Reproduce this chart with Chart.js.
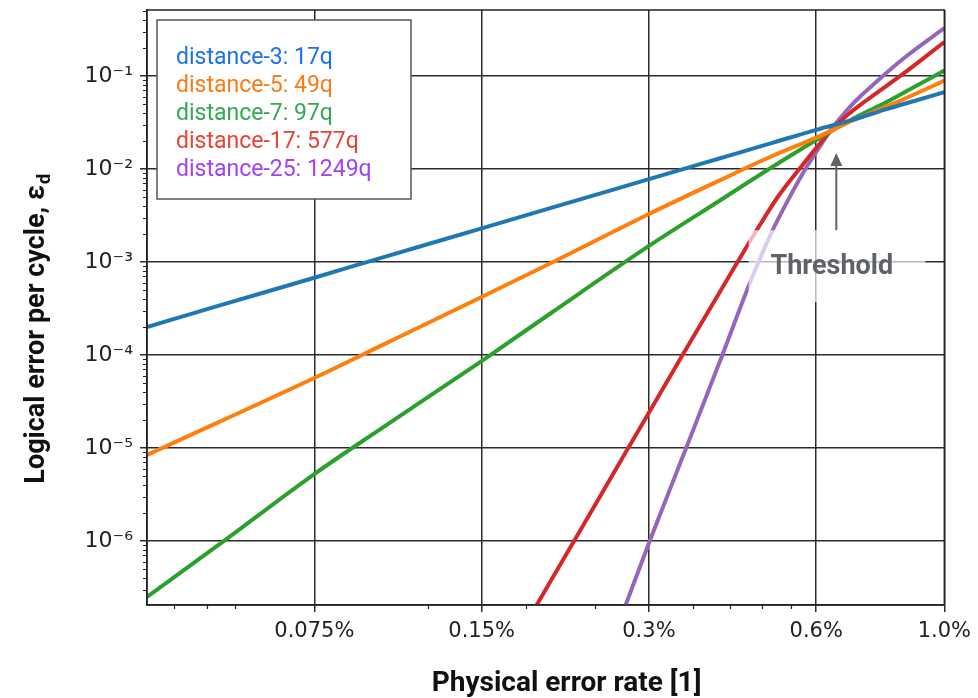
<!DOCTYPE html>
<html>
<head>
<meta charset="utf-8">
<script src="https://cdn.jsdelivr.net/npm/chart.js@4.4.1/dist/chart.umd.min.js"></script>
<style>
  html, body { margin: 0; padding: 0; background: #fff; }
  #wrap { width: 978px; height: 698px; }
</style>
</head>
<body>
<div id="wrap"><canvas id="chart" width="978" height="698"></canvas></div>
<script>
// ── Data (physical error rate in %, logical error per cycle) ────────────────
const rates = [0.0375, 0.05, 0.075, 0.1, 0.15, 0.2, 0.3, 0.4, 0.5, 0.6, 0.7, 0.8, 0.9, 1.02];
const d3 = [2.0e-4, 3.33e-4, 6.78e-4, 1.13e-3, 2.30e-3, 3.82e-3, 7.78e-3, 0.0129, 0.0191, 0.0264, 0.0340, 0.0438, 0.0539, 0.0671];
const d5 = [8.41e-6, 1.85e-5, 5.66e-5, 1.30e-4, 4.21e-4, 9.75e-4, 3.28e-3, 7.43e-3, 0.0138, 0.0218, 0.0335, 0.0465, 0.0633, 0.0895];
const d7 = [2.5e-7, 8.73e-7, 5.25e-6, 1.69e-5, 8.61e-5, 2.83e-4, 1.49e-3, 4.48e-3, 0.0105, 0.0205, 0.0350, 0.0519, 0.0762, 0.1146];

const d17Rates = [0.188, 0.22, 0.274, 0.344, 0.432, 0.469, 0.513, 0.565, 0.606, 0.639, 0.686, 0.736, 0.868, 1.02];
const d17 = [2.0e-7, 1e-6, 9.5e-6, 9.75e-5, 9.75e-4, 2.21e-3, 5.13e-3, 0.0108, 0.0181, 0.0262, 0.0390, 0.0539, 0.110, 0.232];

const d25Rates = [0.272, 0.30, 0.35, 0.406, 0.458, 0.499, 0.535, 0.5765, 0.6135, 0.639, 0.677, 0.706, 0.776, 0.868, 1.02];
const d25 = [2.0e-7, 9.5e-7, 1e-5, 9.75e-5, 6.4e-4, 2.10e-3, 4.75e-3, 0.0105, 0.0186, 0.0269, 0.0410, 0.0539, 0.0906, 0.160, 0.328];

const seriesLabels = ["distance-3: 17q", "distance-5: 49q", "distance-7: 97q", "distance-17: 577q", "distance-25: 1249q"];
const lineColors   = ["#1f77b4", "#ff7f0e", "#2ca02c", "#d62728", "#9467bd"];
const legendColors = ["#1a73e8", "#fa7b17", "#34a853", "#ea4335", "#a142f4"];

const xTickVals   = [0.075, 0.15, 0.3, 0.6, 1.02];
const xTickLabels = ["0.075%", "0.15%", "0.3%", "0.6%", "1.0%"];
const xMinorVals  = [0.042, 0.048, 0.054, 0.12, 0.18, 0.24, 0.36, 0.42, 0.48, 0.54];
const yTickVals   = [1e-6, 1e-5, 1e-4, 1e-3, 1e-2, 1e-1];
const yTickLabels = ["10⁻⁶", "10⁻⁵", "10⁻⁴", "10⁻³", "10⁻²", "10⁻¹"];

const X_MIN = 0.0375, X_MAX = 1.02;
const Y_MIN = 2.05e-7, Y_MAX = 0.513;

// threshold annotation, in data coordinates
const threshold = { x: 0.652, arrowFrom: 2.2e-3, arrowTo: 0.0149, textX: 0.64, textY: 8.8e-4,
                    boxX0: 0.4534, boxX1: 0.943, boxY0: 3.7e-4, boxY1: 2.2e-3 };

const TICK_FONT = { family: "'DejaVu Sans', sans-serif", size: 21 };
const Y_TICK_FONT = { family: "'DejaVu Sans', sans-serif", size: 22 };
const SANS = "Roboto, 'Open Sans', sans-serif";
const X_TITLE_FONT = { family: SANS, size: 28, weight: "bold", lineHeight: 1 };
const Y_TITLE_FONT = { family: SANS, size: 27, weight: "bold", lineHeight: 1.2 };
const X_TITLE = "Physical error rate [1]";
const X_TITLE_LEAD = "      ";
const Y_TITLE = "Logical error per cycle, ε";
const Y_TITLE_PAD = "        ";

function pts(xs, ys) {
  return xs.map((x, i) => ({ x, y: ys[i] }));
}

function makeSet(i, data) {
  return {
    label: seriesLabels[i],
    data,
    borderColor: lineColors[i],
    backgroundColor: lineColors[i],
    borderWidth: 4,
    pointRadius: 0,
    cubicInterpolationMode: "monotone",
    fill: false,
  };
}

// ── Plugins: minor ticks, frame, threshold note, legend, subscript ───────────
const extrasPlugin = {
  id: "extras",
  afterDatasetsDraw(chart) {
    const { ctx, scales: { x, y } } = chart;
    // threshold box (translucent, fades lines behind the label)
    const bx0 = x.getPixelForValue(threshold.boxX0), bx1 = x.getPixelForValue(threshold.boxX1);
    const by0 = y.getPixelForValue(threshold.boxY1), by1 = y.getPixelForValue(threshold.boxY0);
    ctx.save();
    ctx.fillStyle = "rgba(255,255,255,0.68)";
    ctx.fillRect(bx0, by0, bx1 - bx0, by1 - by0);
    // arrow
    const ax = x.getPixelForValue(threshold.x);
    const ay0 = y.getPixelForValue(threshold.arrowFrom), ay1 = y.getPixelForValue(threshold.arrowTo);
    ctx.strokeStyle = "#5f6368";
    ctx.fillStyle = "#5f6368";
    ctx.lineWidth = 2;
    ctx.beginPath();
    ctx.moveTo(ax, ay0);
    ctx.lineTo(ax, ay1 + 10);
    ctx.stroke();
    ctx.beginPath();
    ctx.moveTo(ax, ay1);
    ctx.lineTo(ax - 6, ay1 + 13);
    ctx.lineTo(ax + 6, ay1 + 13);
    ctx.closePath();
    ctx.fill();
    ctx.font = `bold 27px ${SANS}`;
    ctx.textAlign = "center";
    ctx.textBaseline = "middle";
    ctx.fillText("Threshold", x.getPixelForValue(threshold.textX), y.getPixelForValue(threshold.textY));
    ctx.restore();
  },
  afterDraw(chart) {
    const { ctx, chartArea: ca, scales: { x, y } } = chart;
    ctx.save();
    // frame
    ctx.strokeStyle = "#222";
    ctx.lineWidth = 1.5;
    ctx.strokeRect(ca.left, ca.top, ca.right - ca.left, ca.bottom - ca.top);
    // minor ticks
    ctx.lineWidth = 1.2;
    ctx.beginPath();
    xMinorVals.forEach(v => {
      const px = Math.round(x.getPixelForValue(v)) + 0.5;
      ctx.moveTo(px, ca.bottom);
      ctx.lineTo(px, ca.bottom + 4);
    });
    for (let e = -7; e <= 0; e++) {
      for (let m = 2; m <= 9; m++) {
        const v = m * Math.pow(10, e);
        if (v < Y_MIN || v > Y_MAX) continue;
        const py = Math.round(y.getPixelForValue(v)) + 0.5;
        ctx.moveTo(ca.left - 4, py);
        ctx.lineTo(ca.left, py);
      }
    }
    ctx.stroke();

    // legend
    const lx = ca.left + 10, ly = ca.top + 10, lw = 254, lh = 179;
    ctx.fillStyle = "#fff";
    ctx.fillRect(lx, ly, lw, lh);
    ctx.strokeStyle = "#555";
    ctx.lineWidth = 1.5;
    ctx.strokeRect(lx, ly, lw, lh);
    ctx.font = `23px ${SANS}`;
    ctx.textAlign = "left";
    ctx.textBaseline = "middle";
    chart.data.datasets.forEach((ds, i) => {
      ctx.fillStyle = legendColors[i];
      ctx.fillText(ds.label, lx + 19, ly + 38 + i * 28);
    });

    // subscript d on the y title
    const f = Y_TITLE_FONT;
    ctx.font = `${f.weight} ${f.size}px ${f.family}`;
    const totalW = ctx.measureText(Y_TITLE + Y_TITLE_PAD).width;
    const baseW = ctx.measureText(Y_TITLE).width;
    const cy = (y.top + y.bottom) / 2;
    const tx = y.options.title.padding.top + f.size * f.lineHeight / 2;
    const endY = cy + totalW / 2 - baseW;
    ctx.translate(tx + 8, endY - 1);
    ctx.rotate(-Math.PI / 2);
    ctx.font = `bold 18px ${f.family}`;
    ctx.fillStyle = "#111";
    ctx.textAlign = "left";
    ctx.textBaseline = "middle";
    ctx.fillText("d", 0, 0);
    ctx.restore();
  },
};

// ── Chart ────────────────────────────────────────────────────────────────────
new Chart(document.getElementById("chart"), {
  type: "line",
  data: {
    datasets: [
      makeSet(0, pts(rates, d3)),
      makeSet(1, pts(rates, d5)),
      makeSet(2, pts(rates, d7)),
      makeSet(3, pts(d17Rates, d17)),
      makeSet(4, pts(d25Rates, d25)),
    ],
  },
  options: {
    responsive: false,
    animation: false,
    layout: { padding: { top: 10, right: 31, left: 0, bottom: 0 } },
    plugins: { legend: { display: false }, tooltip: { enabled: false } },
    scales: {
      x: {
        type: "logarithmic",
        min: X_MIN,
        max: X_MAX,
        afterBuildTicks: s => { s.ticks = xTickVals.map(v => ({ value: v })); },
        afterFit: s => { s.height = 93; },
        ticks: {
          callback: v => xTickLabels[xTickVals.indexOf(v)],
          font: TICK_FONT, color: "#222", padding: 7, maxRotation: 0, autoSkip: false,
        },
        grid: { color: "#2b2b2b", lineWidth: 1.5, tickLength: 7, tickColor: "#2b2b2b", tickWidth: 1.5 },
        border: { color: "#222", width: 1.5 },
        title: { display: true, text: X_TITLE_LEAD + X_TITLE, font: X_TITLE_FONT, color: "#111", padding: { top: 0, bottom: 0 } },
      },
      y: {
        type: "logarithmic",
        min: Y_MIN,
        max: Y_MAX,
        afterBuildTicks: s => { s.ticks = yTickVals.map(v => ({ value: v })); },
        afterFit: s => { s.width = 147; s.paddingTop = 0; s.paddingBottom = 0; },
        ticks: {
          callback: v => yTickLabels[yTickVals.indexOf(v)],
          font: Y_TICK_FONT, color: "#222", padding: 7, autoSkip: false,
        },
        grid: { color: "#2b2b2b", lineWidth: 1.5, tickLength: 7, tickColor: "#2b2b2b", tickWidth: 1.5 },
        border: { color: "#222", width: 1.5 },
        title: { display: true, text: Y_TITLE + Y_TITLE_PAD, font: Y_TITLE_FONT, color: "#111", padding: { top: 21, bottom: 0 } },
      },
    },
  },
  plugins: [extrasPlugin],
});
</script>
</body>
</html>
